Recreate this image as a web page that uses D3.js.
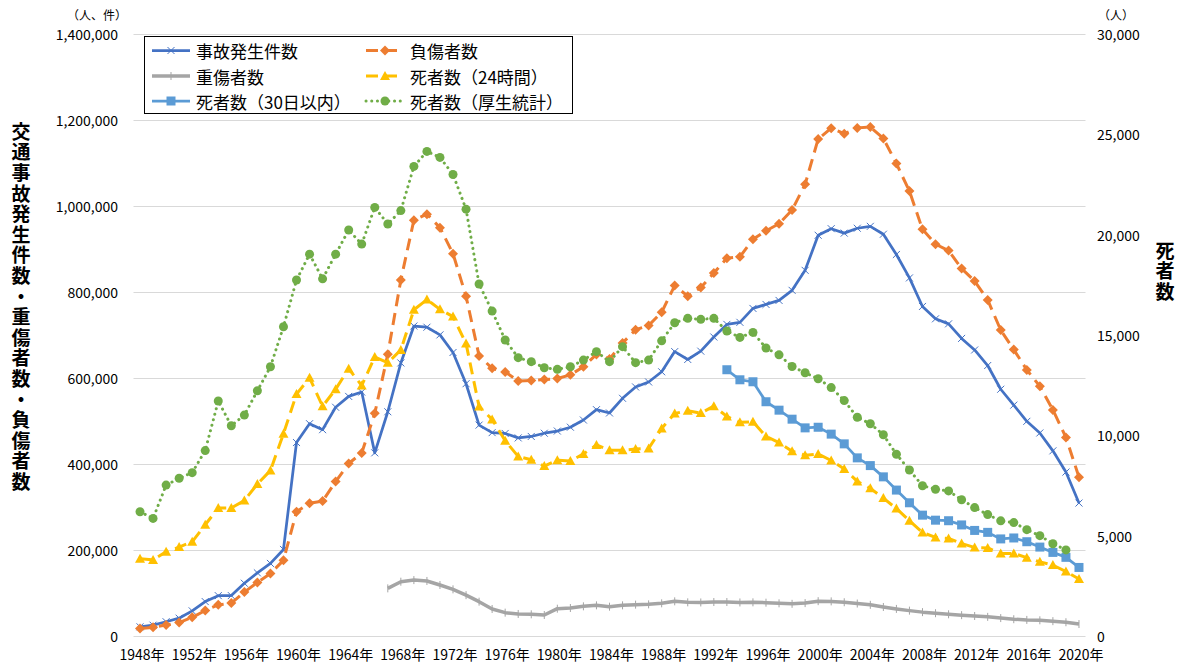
<!DOCTYPE html>
<html><head><meta charset="utf-8">
<script src="https://cdn.jsdelivr.net/npm/d3@7"></script>
<style>
body{margin:0;background:#fff}
text{font-family:"Noto Sans CJK JP","Noto Sans",sans-serif;fill:#000}
.vt{writing-mode:vertical-rl;text-orientation:upright}
</style>
</head><body>
<svg id="c" width="1183" height="663"></svg>
<script>
const years = [1948,1949,1950,1951,1952,1953,1954,1955,1956,1957,1958,1959,1960,1961,1962,1963,1964,1965,1966,1967,1968,1969,1970,1971,1972,1973,1974,1975,1976,1977,1978,1979,1980,1981,1982,1983,1984,1985,1986,1987,1988,1989,1990,1991,1992,1993,1994,1995,1996,1997,1998,1999,2000,2001,2002,2003,2004,2005,2006,2007,2008,2009,2010,2011,2012,2013,2014,2015,2016,2017,2018,2019,2020];
const xTickYears = [1948,1952,1956,1960,1964,1968,1972,1976,1980,1984,1988,1992,1996,2000,2004,2008,2012,2016,2020];
const leftTicks = [0,200000,400000,600000,800000,1000000,1200000,1400000];
const rightTicks = [0,5000,10000,15000,20000,25000,30000];

const accidents = [21341,25113,33212,41423,58487,80019,93869,93981,122691,146833,168799,201292,449917,493693,479825,531966,557183,567286,425944,521481,635056,720880,718080,700290,659283,586713,490452,472938,471041,460649,464037,471573,476677,485578,502261,526362,518642,552788,579190,590723,614481,661363,643097,662392,695346,724675,729461,761794,771085,780401,803882,850371,931950,947253,936950,948281,952720,934346,887267,832704,766394,737637,725924,692084,665157,629033,573842,536899,499201,472165,430601,381237,309178];
const injured = [17609,20242,25450,31274,43321,59280,72390,76501,102072,124530,145432,175951,289156,308697,313813,359089,401117,425666,517775,655377,828071,967000,981096,949689,889198,789948,651420,622467,613957,593211,594116,596282,598719,607346,626192,654822,644321,681346,712330,722179,752845,814832,790295,810245,844003,878633,881723,922677,942203,958925,990675,1050399,1155707,1181039,1168029,1181681,1183617,1157113,1098564,1034652,945703,911215,896297,854613,825392,781492,711374,666023,618853,580850,525846,461775,369476];
const serious = [null,null,null,null,null,null,null,null,null,null,null,null,null,null,null,null,null,null,null,110800,126300,130000,128000,118600,108500,95000,79800,62800,54300,51200,50400,48800,63500,65100,69000,71300,68200,71300,72900,73600,76000,80600,78300,78000,79000,79000,78000,78300,77500,76000,74800,76500,81000,80500,78500,75500,72500,67500,63000,59000,55500,53000,50500,48500,46500,44500,41700,39000,37400,36500,34500,32000,27800];
const deaths24 = [3848,3790,4202,4429,4696,5544,6374,6379,6751,7575,8248,10079,12055,12865,11445,12301,13318,12484,13904,13618,14256,16257,16765,16278,15918,14574,11432,10792,9734,8945,8783,8466,8760,8719,9073,9520,9262,9261,9317,9347,10344,11086,11227,11109,11452,10942,10649,10679,9942,9640,9211,9006,9066,8747,8326,7702,7358,6871,6352,5744,5155,4914,4863,4611,4411,4388,4113,4117,3904,3694,3532,3215,2839];
const deaths30 = [null,null,null,null,null,null,null,null,null,null,null,null,null,null,null,null,null,null,null,null,null,null,null,null,null,null,null,null,null,null,null,null,null,null,null,null,null,null,null,null,null,null,null,null,null,13269,12768,12670,11674,11254,10805,10372,10403,10060,9575,8877,8492,7931,7272,6639,6023,5772,5745,5535,5261,5165,4838,4885,4698,4431,4166,3920,3416];
const deathsVital = [6190,5860,7520,7860,8140,9240,11710,10480,11010,12220,13420,15410,17740,19030,17800,19030,20230,19530,21360,20530,21200,23400,24150,23850,23000,21270,17540,16190,14750,13870,13670,13370,13290,13420,13750,14170,13670,14420,13620,13750,14710,15610,15830,15780,15830,15200,14880,15130,14350,14010,13430,13120,12820,12380,11730,10900,10580,10030,9060,8270,7490,7310,7230,6790,6400,6050,5740,5650,5300,5000,4600,4290,null];

const seriesNames = ["事故発生件数","負傷者数","重傷者数","死者数（24時間）","死者数（30日以内）","死者数（厚生統計）"];
const leftTitle = "交通事故発生件数・重傷者数・負傷者数";
const rightTitle = "死者数";

const svg = d3.select("#c");
const x = d3.scalePoint().domain(years).range([133.5,1085.5]).padding(0.5);
const yL = d3.scaleLinear().domain([0,1400000]).range([636,34]);
const yR = d3.scaleLinear().domain([0,30000]).range([636,34]);
const fmt = d3.format(",");

// gridlines
svg.append("g").selectAll("line").data(leftTicks).join("line")
  .attr("x1",133.5).attr("x2",1085.5)
  .attr("y1",d=>yL(d)+0.5).attr("y2",d=>yL(d)+0.5)
  .attr("stroke","#d9d9d9").attr("stroke-width",1);

// axis labels
svg.append("g").selectAll("text").data(leftTicks).join("text")
  .attr("x",118).attr("y",d=>yL(d)).attr("text-anchor","end")
  .attr("dominant-baseline","central").attr("font-size",14)
  .text(d=>fmt(d));
svg.append("g").selectAll("text").data(rightTicks).join("text")
  .attr("x",1097).attr("y",d=>yR(d)).attr("text-anchor","start")
  .attr("dominant-baseline","central").attr("font-size",14)
  .text(d=>fmt(d));
svg.append("g").selectAll("text").data(xTickYears).join("text")
  .attr("x",d=>x(d)+2).attr("y",654).attr("text-anchor","middle")
  .attr("dominant-baseline","central").attr("font-size",14)
  .text(d=>d+"年");

svg.append("text").attr("x",97).attr("y",14).attr("text-anchor","middle")
  .attr("dominant-baseline","central").attr("font-size",12).text("（人、件）");
svg.append("text").attr("x",1116).attr("y",14).attr("text-anchor","middle")
  .attr("dominant-baseline","central").attr("font-size",12).text("（人）");

// vertical titles
svg.append("text").attr("class","vt").attr("x",21).attr("y",122)
  .attr("font-size",19).attr("font-weight","bold").attr("letter-spacing",1.6)
  .text(leftTitle);
svg.append("text").attr("class","vt").attr("x",1165).attr("y",241)
  .attr("font-size",19).attr("font-weight","bold").attr("letter-spacing",1.6)
  .text(rightTitle);

// marker paths
const mk = {
  x: s=>`M${-s},${-s}L${s},${s}M${-s},${s}L${s},${-s}`,
  diamond: s=>`M0,${-s}L${s},0L0,${s}L${-s},0Z`,
  plus: s=>`M0,${-s}L0,${s}`,
  tri: s=>`M0,${-s}L${s},${s*0.8}L${-s},${s*0.8}Z`,
  square: s=>`M${-s},${-s}H${s}V${s}H${-s}Z`,
  circle: s=>`M${s},0A${s},${s},0,1,1,${-s},0A${s},${s},0,1,1,${s},0Z`
};

const series = [
  {name:seriesNames[0], vals:accidents, y:yL, color:"#4472C4", w:2.75, dash:null, cap:"butt", m:"x", ms:3.5, mfill:"none", mstroke:1},
  {name:seriesNames[1], vals:injured, y:yL, color:"#ED7D31", w:3, dash:"12,7", cap:"butt", m:"diamond", ms:5, mfill:"#ED7D31", mstroke:0},
  {name:seriesNames[2], vals:serious, y:yL, color:"#A5A5A5", w:3.5, dash:null, cap:"butt", m:"plus", ms:4, mfill:"none", mstroke:1},
  {name:seriesNames[3], vals:deaths24, y:yR, color:"#FFC000", w:3, dash:"12,7", cap:"butt", m:"tri", ms:5, mfill:"#FFC000", mstroke:0},
  {name:seriesNames[4], vals:deaths30, y:yR, color:"#5B9BD5", w:2.75, dash:null, cap:"butt", m:"square", ms:4.5, mfill:"#5B9BD5", mstroke:0},
  {name:seriesNames[5], vals:deathsVital, y:yR, color:"#70AD47", w:3, dash:"0.1,5.6", cap:"round", m:"circle", ms:4.5, mfill:"#70AD47", mstroke:0}
];

const plot = svg.append("g");
series.forEach(s=>{
  const pts = years.map((yr,i)=>({yr, v:s.vals[i]})).filter(d=>d.v!=null);
  const line = d3.line().x(d=>x(d.yr)).y(d=>s.y(d.v));
  plot.append("path").datum(pts).attr("d",line).attr("fill","none")
    .attr("stroke",s.color).attr("stroke-width",s.w)
    .attr("stroke-dasharray",s.dash).attr("stroke-linecap",s.cap).attr("stroke-linejoin","round");
  plot.append("g").selectAll("path").data(pts).join("path")
    .attr("transform",d=>`translate(${x(d.yr)},${s.y(d.v)})`)
    .attr("d",mk[s.m](s.ms))
    .attr("fill",s.mfill).attr("stroke",s.mfill==="none"?s.color:"none").attr("stroke-width",s.mstroke);
});

// legend
const lg = svg.append("g");
lg.append("rect").attr("x",144.5).attr("y",36.5).attr("width",428).attr("height",77)
  .attr("fill","#fff").attr("stroke","#000").attr("stroke-width",1);
const cols = [152, 366];
const rows = [50.5, 76, 101];
series.forEach((s,i)=>{
  const cx = cols[i%2], cy = rows[Math.floor(i/2)];
  lg.append("line").attr("x1",cx).attr("x2",cx+38).attr("y1",cy).attr("y2",cy)
    .attr("stroke",s.color).attr("stroke-width",s.w)
    .attr("stroke-dasharray",s.dash).attr("stroke-linecap",s.cap);
  lg.append("path").attr("transform",`translate(${cx+19},${cy})`).attr("d",mk[s.m](s.ms))
    .attr("fill",s.mfill).attr("stroke",s.mfill==="none"?s.color:"none").attr("stroke-width",s.mstroke);
  lg.append("text").attr("x",cx+44).attr("y",cy).attr("dominant-baseline","central")
    .attr("font-size",17).text(s.name);
});
</script>
</body></html>
